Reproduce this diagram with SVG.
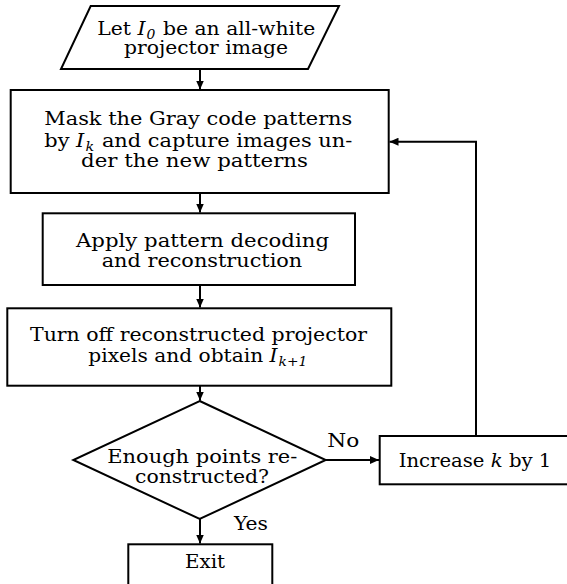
<svg xmlns="http://www.w3.org/2000/svg" width="567" height="584" viewBox="0 0 567 584">
<defs>
<marker id="ah" viewBox="0 0 9 8" refX="9" refY="4" markerWidth="9" markerHeight="8" markerUnits="userSpaceOnUse" orient="auto"><path d="M0,0 L9,4 L0,8 z" fill="#000"/></marker>
</defs>
<style>
.shape{fill:#fff;stroke:#000;stroke-width:2}
.conn{fill:none;stroke:#000;stroke-width:2;marker-end:url(#ah)}
text{font-family:"DejaVu Serif","Liberation Serif",serif;font-size:19px;fill:#000}
.i{font-style:italic}
.sub{font-size:13px;font-style:italic}
</style>
<rect width="567" height="584" fill="#fff"/>
<g id="connectors">
<path class="conn" d="M200,69 V89.5"/>
<path class="conn" d="M200,193 V212.5"/>
<path class="conn" d="M200,285 V307.5"/>
<path class="conn" d="M200,386 V400.5"/>
<path class="conn" d="M326,460 H379"/>
<path class="conn" d="M200,519 V543.5"/>
<path class="conn" d="M476,436 V141.7 H389.5"/>
</g>
<g id="start">
<polygon class="shape" points="90.7,6 339,6 308,69 61,69"/>
<text x="97.3" y="35" textLength="218" lengthAdjust="spacingAndGlyphs">Let <tspan class="i">I</tspan><tspan class="sub" dx="1" dy="4">0</tspan><tspan dx="1" dy="-4"> be an all-white</tspan></text>
<text x="124" y="54" textLength="164" lengthAdjust="spacingAndGlyphs">projector image</text>
</g>
<g id="mask">
<rect class="shape" x="10.7" y="90" width="378" height="103"/>
<text x="44.3" y="125" textLength="308" lengthAdjust="spacingAndGlyphs">Mask the Gray code patterns</text>
<text x="44.3" y="146.5" textLength="308" lengthAdjust="spacingAndGlyphs">by <tspan class="i">I</tspan><tspan class="sub" dx="1" dy="4">k</tspan><tspan dx="1" dy="-4"> and capture images un-</tspan></text>
<text x="81" y="167" textLength="227" lengthAdjust="spacingAndGlyphs">der the new patterns</text>
</g>
<g id="decode">
<rect class="shape" x="42.7" y="213.3" width="312.3" height="71.7"/>
<text x="76" y="246.7" textLength="253" lengthAdjust="spacingAndGlyphs">Apply pattern decoding</text>
<text x="101.7" y="266.7" textLength="200.6" lengthAdjust="spacingAndGlyphs">and reconstruction</text>
</g>
<g id="turnoff">
<rect class="shape" x="7.3" y="308.3" width="384" height="77.4"/>
<text x="30" y="340.7" textLength="337" lengthAdjust="spacingAndGlyphs">Turn off reconstructed projector</text>
<text x="88.3" y="361.7" textLength="219" lengthAdjust="spacingAndGlyphs">pixels and obtain <tspan class="i">I</tspan><tspan class="sub" dx="1" dy="4">k+1</tspan></text>
</g>
<g id="decision">
<polygon class="shape" points="199.7,401 325.7,460 199.7,519 73.3,460"/>
<text x="107.3" y="463.3" textLength="190" lengthAdjust="spacingAndGlyphs">Enough points re-</text>
<text x="135" y="483.3" textLength="134" lengthAdjust="spacingAndGlyphs">constructed?</text>
</g>
<g id="labels">
<text x="327.3" y="446.7" textLength="32" lengthAdjust="spacingAndGlyphs">No</text>
<text x="234" y="530" textLength="34" lengthAdjust="spacingAndGlyphs">Yes</text>
</g>
<g id="increase">
<rect class="shape" x="379.7" y="436" width="200" height="48.3"/>
<text x="398.7" y="466.7" textLength="152.6" lengthAdjust="spacingAndGlyphs">Increase <tspan class="i">k</tspan> by 1</text>
</g>
<g id="exit">
<rect class="shape" x="128.3" y="544.3" width="144" height="50"/>
<text x="185" y="568.3" textLength="40" lengthAdjust="spacingAndGlyphs">Exit</text>
</g>
</svg>
